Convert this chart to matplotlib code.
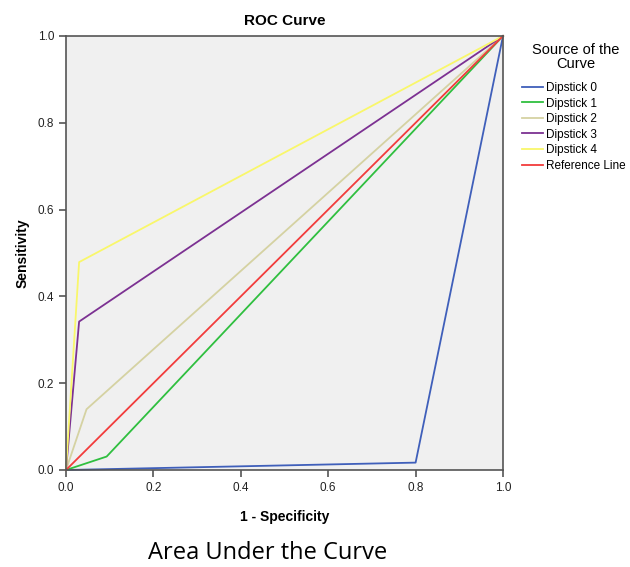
import matplotlib
matplotlib.use("Agg")
import matplotlib.pyplot as plt

plt.rcParams["font.family"] = ["Liberation Sans", "DejaVu Sans"]

# ROC points (1 - specificity, sensitivity)
d0_x = [0.0, 0.80, 1.0]
d0_y = [0.0, 0.017, 1.0]
d1_x = [0.0, 0.093, 1.0]
d1_y = [0.0, 0.031, 1.0]
d2_x = [0.0, 0.047, 1.0]
d2_y = [0.0, 0.14, 1.0]
d3_x = [0.0, 0.03, 1.0]
d3_y = [0.0, 0.342, 1.0]
d4_x = [0.0, 0.03, 1.0]
d4_y = [0.0, 0.479, 1.0]
ref_x = [0.0, 1.0]
ref_y = [0.0, 1.0]

series = [
    ("Dipstick 0", d0_x, d0_y, "#3f5fba"),
    ("Dipstick 1", d1_x, d1_y, "#2fbf3f"),
    ("Dipstick 2", d2_x, d2_y, "#d5d2a2"),
    ("Dipstick 3", d3_x, d3_y, "#7c3192"),
    ("Dipstick 4", d4_x, d4_y, "#f9f76a"),
    ("Reference Line", ref_x, ref_y, "#f23c3c"),
]

fig = plt.figure(figsize=(6.3, 5.67), dpi=100)
ax = fig.add_axes([66 / 630, 1 - 470 / 567, 437 / 630, 434 / 567])
ax.set_facecolor("#f0f0f0")

for name, xs, ys, col in series:
    ax.plot(xs, ys, color=col, lw=1.3, label=name, clip_on=False)

ax.set_xlim(0, 1)
ax.set_ylim(0, 1)
ticks = [0.0, 0.2, 0.4, 0.6, 0.8, 1.0]
ax.set_xticks(ticks)
ax.set_yticks(ticks)
ax.set_xticklabels(["%.1f" % t for t in ticks])
ax.set_yticklabels(["%.1f" % t for t in ticks])
ax.tick_params(direction="out", length=5, width=1.2, color="#555555", labelsize=8.5, labelcolor="#222222")
for s in ax.spines.values():
    s.set_color("#555555")
    s.set_linewidth(1.2)

ax.set_title("ROC Curve", fontweight="bold", fontsize=11, pad=8)
ax.set_xlabel("1 - Specificity", fontweight="bold", fontsize=10, labelpad=12)
ax.set_ylabel("Sensitivity", fontweight="bold", fontsize=10, labelpad=6)

# legend title drawn separately so spacing matches
fig.text(576 / 630, 1 - 50 / 567, "Source of the", ha="center", va="center", fontsize=10.5)
fig.text(576 / 630, 1 - 64 / 567, "Curve", ha="center", va="center", fontsize=10.5)
leg = fig.legend(loc="upper left", bbox_to_anchor=(522 / 630, 1 - 82 / 567), frameon=False,
                 fontsize=8.5, handlelength=1.8, handletextpad=0.25, labelspacing=0.3,
                 borderaxespad=0.0, borderpad=0.0)

fig.text(268 / 630, 1 - 553 / 567, "Area Under the Curve", ha="center", va="center",
         fontsize=17, family=["Open Sans", "DejaVu Sans"])

fig.savefig("out.png", dpi=100)
